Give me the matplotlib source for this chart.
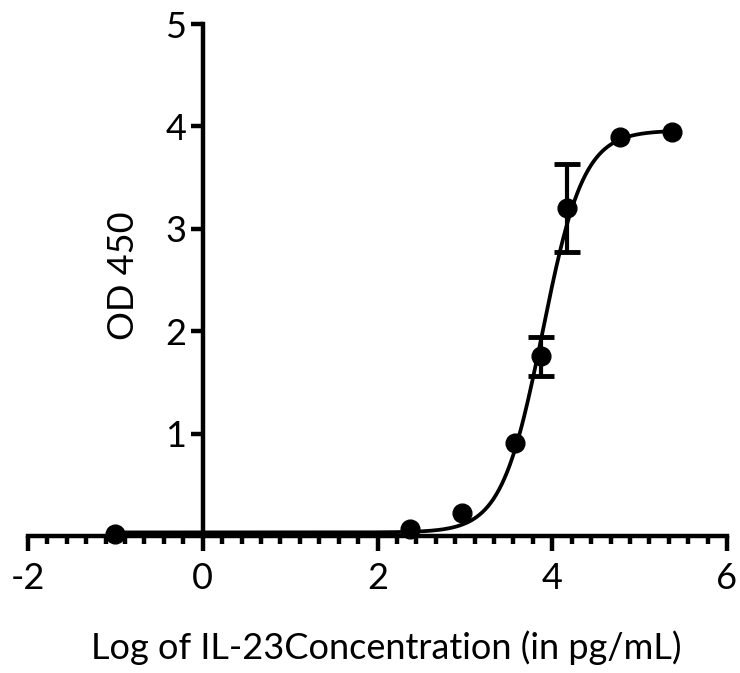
import numpy as np
import matplotlib.pyplot as plt
from matplotlib.ticker import MultipleLocator, AutoMinorLocator

plt.rcParams['font.family'] = ['Lato', 'DejaVu Sans']
plt.rcParams['axes.unicode_minus'] = False

# Measured points (log concentration, mean OD450, SD)
log_conc = [-1.0, 2.37, 2.97, 3.57, 3.87, 4.17, 4.77, 5.37]
od450 = [0.02, 0.07, 0.225, 0.91, 1.755, 3.2, 3.9, 3.95]
od_sd = [0.0, 0.0, 0.0, 0.0, 0.19, 0.43, 0.0, 0.0]

# 4PL fit parameters
bottom, top, log_ec50, hill = 0.035, 3.96, 3.89, 1.85

xfit = np.linspace(min(log_conc), max(log_conc), 400)
yfit = bottom + (top - bottom) / (1 + 10 ** ((log_ec50 - xfit) * hill))

fig = plt.figure(figsize=(7.4, 6.73), dpi=100)
ax = fig.add_axes([28/740, (673-536)/673, (727-28)/740, (536-24)/673])

ax.plot(xfit, yfit, color='black', lw=2.7, clip_on=False, zorder=3)
ax.plot(log_conc, od450, 'o', color='black', ms=13.5, clip_on=False, zorder=4)
# error bars only where SD is visible
ex = [x for x, s in zip(log_conc, od_sd) if s > 0]
ey = [y for y, s in zip(od450, od_sd) if s > 0]
es = [s for s in od_sd if s > 0]
ax.errorbar(ex, ey, yerr=es, fmt='none', ecolor='black',
            elinewidth=3, capsize=9.5, capthick=3.5, zorder=4)

ax.set_xlim(-2, 6)
ax.set_ylim(0, 5)
ax.spines['left'].set_position(('data', 0))
ax.spines['bottom'].set_position(('data', 0))
ax.spines['right'].set_visible(False)
ax.spines['top'].set_visible(False)
for s in ['left', 'bottom']:
    ax.spines[s].set_linewidth(3.2)
    ax.spines[s].set_capstyle('projecting')

ax.xaxis.set_major_locator(MultipleLocator(2))
ax.xaxis.set_minor_locator(AutoMinorLocator(9))
ax.set_yticks([1, 2, 3, 4, 5])
ax.tick_params(axis='x', which='major', direction='out', length=11, width=3.2,
               pad=8, labelsize=26)
ax.tick_params(axis='x', which='minor', direction='out', length=6, width=3.2)
ax.tick_params(axis='y', which='major', direction='out', length=9, width=3.2,
               pad=3, labelsize=26)

fig.text(386/740, (673-659)/673, 'Log of IL-23Concentration (in pg/mL)',
         fontsize=26, ha='center', va='baseline')
fig.text(124/740, (673-276)/673, 'OD 450', fontsize=26, rotation=90,
         ha='center', va='center')

fig.savefig('out.png', dpi=100)
